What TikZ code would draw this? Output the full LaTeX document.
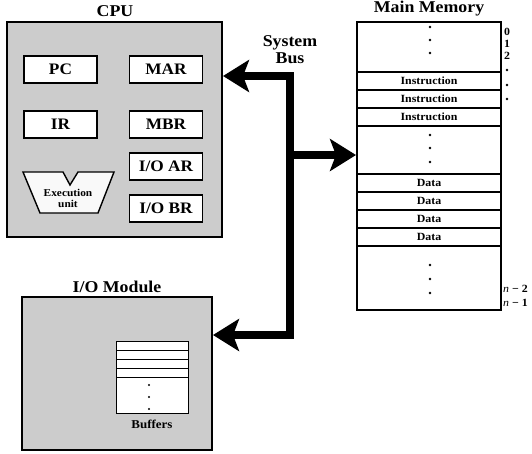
\documentclass[tikz,border=0pt]{standalone}
\usepackage{fontspec}
\setmainfont{Liberation Serif}[FakeStretch=1.08]
\usetikzlibrary{arrows.meta}
\definecolor{panel}{gray}{0.8}
\tikzset{
  unit/.style={draw, fill=panel, line width=2pt, inner sep=0pt},
  reg/.style={draw, fill=white, line width=1.4pt, minimum width=73pt, minimum height=27pt, inner sep=0pt, font=\fontsize{16}{18}\selectfont\bfseries},
  cell/.style={draw, line width=1.8pt, minimum width=144pt, minimum height=18pt, inner sep=0pt, font=\fontsize{11}{12}\selectfont\bfseries},
  title/.style={font=\fontsize{16.5}{17}\selectfont\bfseries},
  addr/.style={anchor=west, inner sep=0pt, font=\fontsize{11}{12}\selectfont\bfseries},
  bus/.style={line width=8pt, line join=miter},
}
\begin{document}
\begin{tikzpicture}[x=1pt, y=-1pt, >={Stealth[length=26pt, width=32pt, inset=6pt]}]
  \useasboundingbox (0,0) rectangle (532,453);

  % CPU
  \node[unit, minimum width=215pt, minimum height=215pt] (cpu) at (114.5,129.5) {};
  \node[title] (cputitle) at (115,11) {CPU};
  \node[reg] (pc) at (60.5,69.5) {PC};
  \node[reg] (mar) at (166,69.5) {MAR};
  \node[reg] (ir) at (60.5,124.5) {IR};
  \node[reg] (mbr) at (166,124.5) {MBR};
  \node[reg] (ioar) at (166,166.5) {I/O AR};
  \node[reg] (iobr) at (166,208.5) {I/O BR};

  % Execution unit
  \draw[fill=gray!5, line width=1.4pt] (23,172) -- (63,172) -- (70,185) -- (78,172)
    -- (114,172) -- (98,213) -- (40,213) -- cycle;
  \node[align=center, font=\fontsize{10.5}{11}\selectfont\bfseries] (exec) at (68,198) {Execution\\unit};

  % Main memory
  \node[draw, line width=2pt, minimum width=144pt, minimum height=288pt, inner sep=0pt] (mem) at (429,166) {};
  \node[title] (memtitle) at (429,9) {Main Memory};
  \foreach \y/\txt in {81/Instruction, 99/Instruction, 117/Instruction, 183/Data, 201/Data, 219/Data, 237/Data}
    \node[cell] at (429,\y) {\txt};
  \foreach \y in {27,40,53,135,148,162,265,279,293}
    \fill (430,\y) circle (1.3pt);

  % Addresses
  \foreach \y/\txt in {32/0, 44/1, 56/2}
    \node[addr] at (504,\y) {\txt};
  \foreach \y in {70,85,99}
    \fill (507,\y) circle (1.3pt);
  \node[addr] (nmtwo) at (503,289) {{\mdseries\itshape n} − 2};
  \node[addr] (nmone) at (503,303) {{\mdseries\itshape n} − 1};

  % I/O module
  \node[unit, minimum width=190pt, minimum height=153pt] (iomod) at (117,373.5) {};
  \node[title] (iotitle) at (117,287) {I/O Module};
  \node[draw, fill=white, line width=1pt, minimum width=72pt, minimum height=72pt] (buf) at (152,377) {};
  \foreach \y in {350,359,368,377}
    \draw[line width=0.9pt] (116,\y) -- (188,\y);
  \foreach \y in {385,397,409}
    \fill (149,\y) circle (1.1pt);
  \node[font=\fontsize{12}{13}\selectfont\bfseries] (buflabel) at (152,424) {Buffers};

  % System bus
  \coordinate (bustop) at (290,76);
  \coordinate (busmid) at (290,155);
  \coordinate (busbot) at (290,335);
  \draw[bus, <->] (cpu.east |- bustop) -- (bustop) -- (busbot) -- (iomod.east |- busbot);
  \draw[bus, ->] (busmid) -- (mem.west |- busmid);
  \node[title, align=center] (buslabel) at (290,50) {System\\Bus};

\end{tikzpicture}
\end{document}
